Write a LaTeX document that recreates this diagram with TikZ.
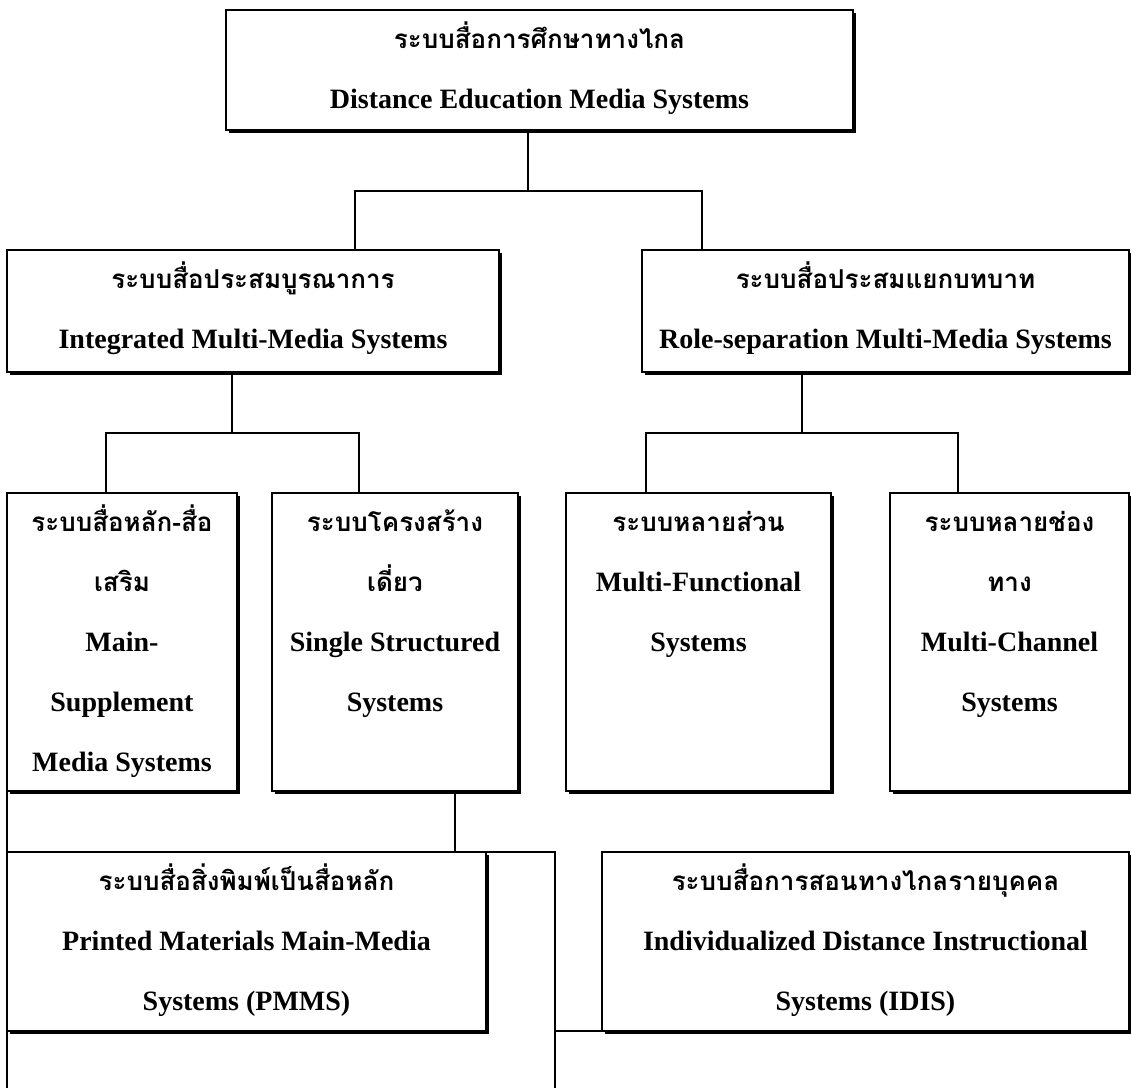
\documentclass[tikz,border=0pt]{standalone}
\usepackage{fontspec}
\setmainfont{Liberation Serif}
\newfontfamily\thai[Script=Thai]{Loma}
\usetikzlibrary{shadows}
\newcommand{\boxtext}[3]{\parbox[t][#2][t]{#1}{\centering\rule{0pt}{19pt}#3}}
\newcommand{\thline}[1]{{\thai\fontsize{13}{30}\selectfont #1}}
\tikzset {
    box/.style={draw, line width=1pt, fill=white, inner sep=0pt, outer sep=0pt,
        anchor=north west,
        drop shadow={shadow xshift=1.5pt, shadow yshift=-1.5pt, fill=black, opacity=1},
        font=\fontsize{14}{30}\selectfont\bfseries},
    link/.style={line width=1pt}
}
\begin{document}
\begin{tikzpicture}[x=0.5pt, y=-0.5pt]
                        \useasboundingbox (0,0) rectangle (1131,1088);
                        \coordinate (bot) at (0,1088);

                        \node[box] (top) at (226,10) {\boxtext{313.5pt}{60pt}{\thline{ระบบสื่อการศึกษาทางไกล}\\ Distance Education Media Systems}};
                        \node[box] (imm) at (7,250) {\boxtext{246pt}{61pt}{\thline{ระบบสื่อประสมบูรณาการ}\\ Integrated Multi-Media Systems}};
                        \node[box] (rsm) at (642,250) {\boxtext{243.5pt}{61pt}{\thline{ระบบสื่อประสมแยกบทบาท}\\ Role-separation Multi-Media Systems}};
                        \node[box] (msm) at (7,493) {\boxtext{115pt}{149pt}{\thline{ระบบสื่อหลัก-สื่อ}\\ \thline{เสริม}\\ Main-\\ Supplement\\ Media Systems}};
                        \node[box] (ssm) at (272,493) {\boxtext{123pt}{149pt}{\thline{ระบบโครงสร้าง}\\ \thline{เดี่ยว}\\ Single Structured\\ Systems}};
                        \node[box] (mfs) at (566,493) {\boxtext{132.5pt}{149pt}{\thline{ระบบหลายส่วน}\\ Multi-Functional\\ Systems}};
                        \node[box] (mcs) at (890,493) {\boxtext{119.5pt}{149pt}{\thline{ระบบหลายช่อง}\\ \thline{ทาง}\\ Multi-Channel\\ Systems}};
                        \node[box] (pmms) at (7,852) {\boxtext{239.5pt}{89.5pt}{\thline{ระบบสื่อสิ่งพิมพ์เป็นสื่อหลัก}\\ Printed Materials Main-Media\\ Systems (PMMS)}};
                        \node[box] (idis) at (602,852) {\boxtext{263.5pt}{89.5pt}{\thline{ระบบสื่อการสอนทางไกลรายบุคคล}\\ Individualized Distance Instructional\\ Systems (IDIS)}};

                        % bus points
                        \coordinate (b1) at (528,191);
                        \coordinate (b1l) at (355,191);
                        \coordinate (b1r) at (702,191);
                        \coordinate (b2) at (232,433);
                        \coordinate (b2l) at (106,433);
                        \coordinate (b2r) at (359,433);
                        \coordinate (b3) at (802,433);
                        \coordinate (b3l) at (646,433);
                        \coordinate (b3r) at (958,433);
                        \coordinate (b4) at (455,822);
                        \coordinate (fr) at (555,852);

                        \draw[link] (top.south -| b1) -- (b1);
                        \draw[link] (imm.north -| b1l) |- (b1r) -- (rsm.north -| b1r);
                        \draw[link] (imm.south -| b2) -- (b2);
                        \draw[link] (msm.north -| b2l) |- (b2r) -- (ssm.north -| b2r);
                        \draw[link] (rsm.south -| b3) -- (b3);
                        \draw[link] (mfs.north -| b3l) |- (b3r) -- (mcs.north -| b3r);
                        \draw[link] (ssm.south -| b4) -- (pmms.north -| b4);
                        \draw[link] (msm.south west) -- (msm.south west |- bot);
                        \draw[link] (pmms.north east) -- (fr) -- (fr |- bot);
                        \draw[link] (idis.south west -| fr) -- (idis.south west);
                    \end{tikzpicture}
\end{document}
